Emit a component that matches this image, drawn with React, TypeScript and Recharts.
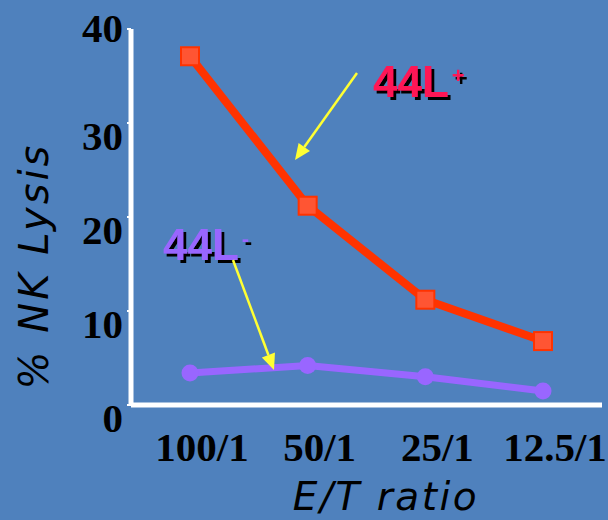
import { LineChart, Line, XAxis, YAxis } from 'recharts';

const ratios = ['100/1', '50/1', '25/1', '12.5/1'];
const lysisPlus = [37.1, 21.2, 11.2, 6.8];
const lysisMinus = [3.4, 4.2, 3.0, 1.5];
const yTicks = [0, 10, 20, 30, 40];

const data = ratios.map((ratio, i) => ({
  ratio,
  plus: lysisPlus[i],
  minus: lysisMinus[i],
}));

const BG = '#4f81bd';
const RED = '#ff3300';
const PURPLE = '#9966ff';
const YELLOW = '#ffff33';

const tickFont = { fontFamily: '"Liberation Serif", serif', fontWeight: 700, fontSize: 41 };

function XTick(props: any) {
  const { x, y, payload } = props;
  return (
    <text x={x + 12} y={y + 48} textAnchor="middle" fill="#000" style={tickFont}>
      {payload.value}
    </text>
  );
}

function YTick(props: any) {
  const { y, payload } = props;
  // labels hang just below their tick, the top one is pulled up
  const dy = payload.value === 40 ? 13 : 27;
  return (
    <text x={123} y={y + dy} textAnchor="end" fill="#000" style={tickFont}>
      {payload.value}
    </text>
  );
}

function SquareDot(props: any) {
  const { cx, cy, index } = props;
  return (
    <rect
      key={`sq-${index}`}
      x={cx - 9}
      y={cy - 9}
      width={18}
      height={18}
      fill="#ff5533"
      stroke={RED}
      strokeWidth={2}
    />
  );
}

function Arrow({ x1, y1, x2, y2 }: { x1: number; y1: number; x2: number; y2: number }) {
  const a = Math.atan2(y2 - y1, x2 - x1);
  const len = 16;
  const half = 7;
  const bx = x2 - len * Math.cos(a);
  const by = y2 - len * Math.sin(a);
  const px = -Math.sin(a) * half;
  const py = Math.cos(a) * half;
  return (
    <g>
      <line x1={x1} y1={y1} x2={bx} y2={by} stroke={YELLOW} strokeWidth={2.5} />
      <polygon points={`${x2},${y2} ${bx + px},${by + py} ${bx - px},${by - py}`} fill={YELLOW} />
    </g>
  );
}

function Tag({ x, y, text, sup, color }: { x: number; y: number; text: string; sup: string; color: string }) {
  const font = { fontFamily: '"Liberation Sans", Arial, sans-serif', fontWeight: 700 };
  return (
    <g filter="url(#tagShadow)">
      <text x={x} y={y} fill={color} style={{ ...font, fontSize: 44 }}>
        {text}
        <tspan dx={3} dy={-14} style={{ fontSize: 22 }}>{sup}</tspan>
      </text>
    </g>
  );
}

export default function App() {
  return (
    <div style={{ position: 'absolute', left: 0, top: 0, width: 608, height: 520, background: BG }}>
      <LineChart
        width={608}
        height={520}
        data={data}
        margin={{ top: 29, right: 6, bottom: 0, left: 0 }}
      >
        <XAxis
          dataKey="ratio"
          height={115}
          padding={{ left: 59, right: 59 }}
          axisLine={{ stroke: '#fff', strokeWidth: 5 }}
          tickLine={false}
          tick={<XTick />}
          interval={0}
        />
        <YAxis
          width={131}
          domain={[0, 40]}
          ticks={yTicks}
          axisLine={{ stroke: '#fff', strokeWidth: 5 }}
          tickLine={{ stroke: '#fff', strokeWidth: 2 }}
          tickSize={4}
          tick={<YTick />}
        />
        <Line
          dataKey="plus"
          stroke={RED}
          strokeWidth={8}
          dot={SquareDot}
          activeDot={false}
          isAnimationActive={false}
        />
        <Line
          dataKey="minus"
          stroke={PURPLE}
          strokeWidth={7}
          dot={{ r: 8.5, fill: PURPLE, stroke: 'none' }}
          activeDot={false}
          isAnimationActive={false}
        />
      </LineChart>
      <svg
        width={608}
        height={520}
        style={{ position: 'absolute', left: 0, top: 0, pointerEvents: 'none' }}
      >
        <defs>
          <filter id="tagShadow" x="-10%" y="-10%" width="130%" height="130%">
            <feDropShadow dx={3} dy={3} stdDeviation={0} floodColor="#000" floodOpacity={1} />
          </filter>
        </defs>
        <text
          x={48}
          y={266}
          textAnchor="middle"
          transform="rotate(-90 48 266)"
          fill="#000"
          style={{ fontFamily: '"DejaVu Sans", sans-serif', fontStyle: 'italic', fontSize: 40, letterSpacing: 3 }}
        >
          % NK Lysis
        </text>
        <text
          x={386}
          y={510}
          textAnchor="middle"
          fill="#000"
          style={{ fontFamily: '"DejaVu Sans", sans-serif', fontStyle: 'italic', fontSize: 39, letterSpacing: 2.5 }}
        >
          E/T ratio
        </text>
        <Tag x={373} y={97} text="44L" sup="+" color="#ff1455" />
        <Tag x={163} y={260} text="44L" sup="-" color={PURPLE} />
        <Arrow x1={357} y1={73} x2={295} y2={160} />
        <Arrow x1={233} y1={260} x2={274} y2={370} />
      </svg>
    </div>
  );
}
